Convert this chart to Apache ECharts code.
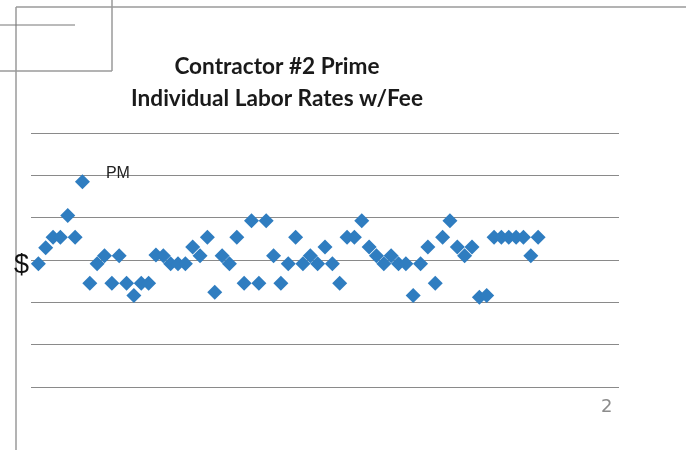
<!DOCTYPE html>
<html>
<head>
<meta charset="utf-8">
<script src="https://cdn.jsdelivr.net/npm/echarts@6/dist/echarts.min.js"></script>
<style>
  html, body { margin: 0; padding: 0; background: #fff; }
  #chart { width: 686px; height: 450px; }
</style>
</head>
<body>
<div id="chart"></div>
<script>
// labour rates (grid units, no $ labels shown)
const positions = Array.from({ length: 69 }, (_, i) => i + 1);
const rates = [
  2.91, 3.29, 3.54, 3.54, 4.05, 3.54, 4.85, 2.45, 2.91, 3.10,
  2.45, 3.10, 2.45, 2.16, 2.45, 2.45, 3.12, 3.10, 2.91, 2.91,
  2.91, 3.31, 3.10, 3.54, 2.24, 3.10, 2.91, 3.54, 2.45, 3.93,
  2.45, 3.93, 3.10, 2.45, 2.91, 3.54, 2.91, 3.10, 2.91, 3.31,
  2.91, 2.45, 3.54, 3.54, 3.93, 3.31, 3.10, 2.91, 3.10, 2.91,
  2.91, 2.16, 2.91, 3.31, 2.45, 3.54, 3.93, 3.31, 3.10, 3.31,
  2.12, 2.16, 3.54, 3.54, 3.54, 3.54, 3.54, 3.10, 3.54
];
const pmIndex = 6;

const chart = echarts.init(document.getElementById('chart'));

const seriesData = rates.map((v, i) => {
  const item = { value: [positions[i], v] };
  if (i === pmIndex) {
    item.label = {
      show: true,
      formatter: 'PM',
      position: 'right',
      offset: [11, -8],
      color: '#222',
      fontSize: 16,
      fontFamily: 'Liberation Sans, Arial, sans-serif'
    };
  }
  return item;
});

const frame = { stroke: '#9a9a9a', lineWidth: 1.5 };

chart.setOption({
  backgroundColor: '#fff',
  animation: false,
  title: {
    text: 'Contractor #2 Prime\nIndividual Labor Rates w/Fee',
    left: 272,
    top: 46,
    textAlign: 'center',
    textStyle: {
      fontFamily: 'Lato, sans-serif',
      fontWeight: 'bold',
      fontSize: 22.6,
      lineHeight: 32,
      color: '#1a1a1a'
    }
  },
  grid: { left: 31, top: 133, width: 588, height: 254, containLabel: false },
  xAxis: {
    type: 'value',
    min: 0,
    max: 80,
    axisLine: { show: false },
    axisTick: { show: false },
    axisLabel: { show: false },
    splitLine: { show: false }
  },
  yAxis: {
    type: 'value',
    min: 0,
    max: 6,
    interval: 1,
    axisLine: { show: false },
    axisTick: { show: false },
    axisLabel: { show: false },
    splitLine: { lineStyle: { color: '#8a8a8a', width: 1.2 } }
  },
  series: [{
    type: 'scatter',
    symbol: 'diamond',
    symbolSize: [15, 15],
    itemStyle: { color: '#2f7dc0', opacity: 1 },
    data: seriesData
  }],
  graphic: [
    { type: 'line', shape: { x1: 16, y1: 7, x2: 686, y2: 7 }, style: frame },
    { type: 'line', shape: { x1: 16, y1: 7, x2: 16, y2: 450 }, style: frame },
    { type: 'line', shape: { x1: 112, y1: 0, x2: 112, y2: 71 }, style: frame },
    { type: 'line', shape: { x1: 0, y1: 71, x2: 112, y2: 71 }, style: frame },
    { type: 'line', shape: { x1: 0, y1: 25, x2: 75, y2: 25 }, style: { stroke: '#777', lineWidth: 1 } },
    {
      type: 'text',
      left: 14,
      top: 252,
      style: {
        text: '$',
        fill: '#111',
        font: '27px "Liberation Sans", Arial, sans-serif'
      }
    },
    {
      type: 'text',
      left: 601,
      top: 398,
      style: {
        text: '2',
        fill: '#8c8c8c',
        font: '18px "DejaVu Sans", sans-serif'
      }
    }
  ]
});
</script>
</body>
</html>
